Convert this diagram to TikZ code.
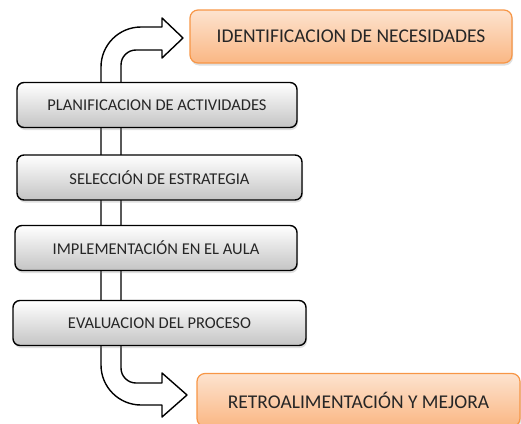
\documentclass[tikz,border=0pt]{standalone}
\usepackage{fontspec}
\setmainfont{Carlito}
\usepackage{tikz}
\usetikzlibrary{shapes,arrows,positioning,shadows,calc}

\definecolor{accorange}{HTML}{F79646}
\definecolor{peachtop}{HTML}{FDE3CF}
\definecolor{peachbot}{HTML}{FAB784}
\definecolor{greybot}{HTML}{C4C4C4}
\definecolor{txtdark}{HTML}{262626}

\begin{document}
\begin{tikzpicture}[
    x=1pt, y=-1pt,
    stage/.style={rectangle, draw=black, line width=1.4pt, rounded corners=7pt,
                  top color=white, bottom color=greybot,
                  drop shadow={shadow xshift=1pt, shadow yshift=-2.5pt, opacity=0.25},
                  minimum height=45pt, align=center,
                  font=\fontsize{16.5}{19}\selectfont, text=txtdark},
    goal/.style={rectangle, draw=accorange, line width=1.2pt, rounded corners=8pt,
                 top color=peachtop, bottom color=peachbot,
                 drop shadow={shadow xshift=1pt, shadow yshift=-2.5pt, opacity=0.25},
                 minimum height=53pt, minimum width=322pt, align=center,
                 font=\fontsize{19.5}{22}\selectfont, text=txtdark},
    bentarrow/.style={draw=black, line width=1.4pt, fill=white, line join=round},
  ]
  \useasboundingbox (0,0) rectangle (521,423);

  % Bending arrow (behind the stages)
  \draw[bentarrow] (183,38) -- (162,18) -- (162,27) -- (141,27)
      arc[start angle=270, end angle=180, radius=40] -- (101,365)
      arc[start angle=180, end angle=90, radius=40] -- (162,405)
      -- (162,417) -- (187,395) -- (162,373) -- (162,383) -- (136,383)
      arc[start angle=90, end angle=180, radius=15] -- (121,65)
      arc[start angle=180, end angle=270, radius=15] -- (162,50)
      -- (162,58) -- cycle;

  % Goals
  \node[goal] (idn) at (351,36.5) {IDENTIFICACION DE NECESIDADES};
  \node[goal, minimum width=323pt] (retro) at (358.5,400) {RETROALIMENTACIÓN Y MEJORA};

  % Stages
  \node[stage, minimum width=280pt] (plan) at (157,105) {PLANIFICACION DE ACTIVIDADES};
  \node[stage, minimum width=285pt] (sel) at (159.5,177.5) {SELECCIÓN DE ESTRATEGIA};
  \node[stage, minimum width=282pt] (impl) at (156,248) {IMPLEMENTACIÓN EN EL AULA};
  \node[stage, minimum width=293pt] (eval) at (159.5,323) {EVALUACION DEL PROCESO};
\end{tikzpicture}
\end{document}
